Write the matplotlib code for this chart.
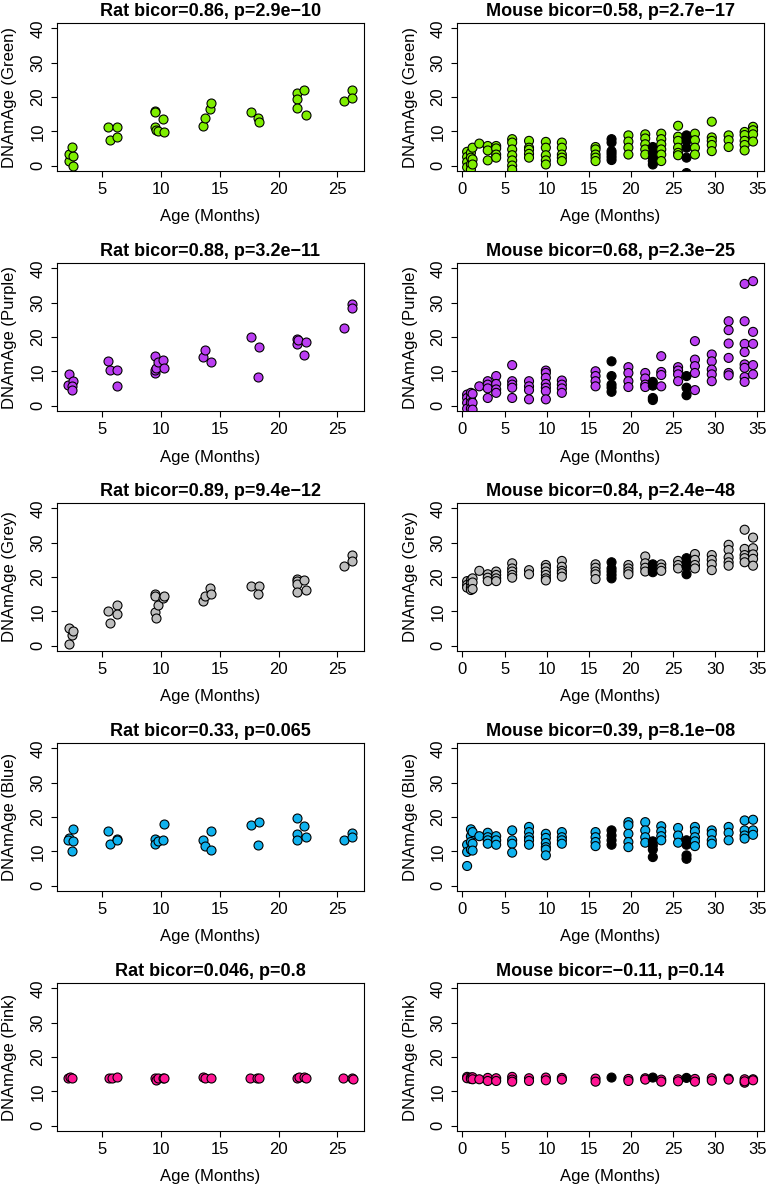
import matplotlib
matplotlib.use("Agg")
import matplotlib.pyplot as plt

plt.rcParams['font.family'] = ['Liberation Sans', 'DejaVu Sans']

# ---- rat data (one list per clock) ----
rat_green_x = [2.18, 2.26, 2.54, 2.49, 2.54, 5.54, 5.70, 6.27, 6.27, 9.52, 9.52, 9.52, 9.58, 9.80,
               10.23, 10.31, 13.59, 13.76, 14.18, 14.29, 17.63, 18.22, 18.30, 21.60, 21.55, 21.60,
               22.18, 22.32, 25.54, 26.27, 26.27]
rat_green_y = [1.3, 3.5, 2.9, 5.4, 0.0, 11.1, 7.4, 11.1, 8.2, 16.0, 15.5, 11.3, 10.4, 10.1,
               13.7, 9.8, 11.5, 13.8, 16.6, 18.3, 15.5, 13.9, 12.6, 21.1, 19.4, 16.8,
               22.1, 14.7, 18.7, 21.9, 19.8]

rat_purple_x = [2.26, 2.12, 2.54, 2.50, 2.48, 5.50, 5.70, 6.27, 6.27, 9.50, 9.50, 9.55, 9.60, 9.80,
                10.20, 10.30, 13.56, 13.76, 14.24, 17.63, 18.30, 18.22, 21.55, 21.55, 21.62,
                22.29, 22.20, 25.54, 26.27, 26.27]
rat_purple_y = [9.2, 6.1, 7.3, 5.8, 4.5, 13.1, 10.5, 10.3, 5.6, 14.4, 9.5, 10.5, 11.0, 12.7,
                13.2, 11.0, 14.2, 16.1, 12.7, 20.0, 17.0, 8.4, 19.3, 18.0, 19.1,
                18.6, 14.7, 22.5, 29.7, 28.5]

rat_grey_x = [2.18, 2.26, 2.49, 2.54, 5.54, 5.70, 6.27, 6.27, 9.52, 9.52, 9.52, 9.58, 9.75,
              10.23, 10.31, 13.59, 13.76, 14.18, 14.29, 17.63, 18.30, 18.22, 21.55, 21.60,
              21.60, 21.60, 22.20, 22.32, 25.54, 26.27, 26.27]
rat_grey_y = [0.3, 5.0, 3.2, 4.2, 10.0, 6.5, 11.8, 9.2, 15.0, 14.5, 9.9, 7.9, 11.7,
              13.8, 14.6, 13.1, 14.4, 16.8, 15.0, 17.5, 17.3, 14.9, 19.4, 18.8,
              18.0, 15.6, 19.0, 16.2, 23.3, 26.4, 24.8]

rat_blue_x = [2.26, 2.12, 2.54, 2.60, 2.49, 5.54, 5.70, 6.27, 6.27, 9.52, 9.52, 9.75,
              10.23, 10.31, 13.59, 13.76, 14.24, 14.29, 17.63, 18.30, 18.22, 21.60, 21.60,
              21.55, 22.20, 22.32, 25.54, 26.27, 26.27]
rat_blue_y = [14.0, 13.2, 16.4, 13.0, 10.2, 16.0, 12.2, 13.7, 13.2, 13.7, 12.0, 12.9,
              13.3, 17.9, 13.4, 11.5, 10.5, 15.8, 17.6, 18.6, 11.7, 19.7, 15.0,
              13.3, 17.3, 14.1, 13.3, 15.4, 14.1]

rat_pink_x = [2.10, 2.30, 2.50, 5.60, 5.90, 6.30, 9.50, 9.60, 9.80, 10.20, 10.30, 13.60, 13.80,
              14.30, 17.60, 18.20, 18.30, 21.60, 21.70, 22.20, 22.30, 25.50, 26.20, 26.30]
rat_pink_y = [14.0, 14.1, 13.9, 14.0, 13.9, 14.1, 13.9, 13.4, 13.8, 13.9, 14.0, 14.1, 14.0,
              13.8, 14.0, 13.9, 13.9, 14.0, 14.1, 14.2, 14.0, 14.0, 14.0, 13.6]

# ---- mouse data: one sub-list of DNAm ages per age group ----
mouse_ages = [0.55, 1.0, 1.2, 2.0, 3.0, 4.0, 5.9, 7.9, 9.9, 11.8, 15.8, 17.7, 19.7, 21.7,
              22.6, 23.6, 25.6, 26.6, 27.6, 29.6, 31.6, 33.5, 34.5]
black_ages = [17.7, 22.6, 26.6]

mouse_green = [
    [4.0, 2.5, 1.0, -0.5], [3.7, 2.3, 0.3, -1.2], [5.2, 1.8, 0.3], [6.4],
    [5.7, 4.4, 1.5], [5.7, 5.0, 3.2, 2.3], [7.7, 6.7, 4.7, 3.0, 1.5, 0.0, -1.2],
    [7.2, 5.2, 4.6, 3.4, 2.3], [6.9, 5.2, 3.0, 1.5, 0.3], [6.7, 5.2, 3.2, 2.3, 1.3],
    [5.4, 4.7, 3.2, 2.3, 1.3], [7.7, 6.7, 4.2, 3.4, 2.5, 1.6], [8.8, 7.0, 5.2, 3.2],
    [9.1, 7.9, 6.2, 4.7, 3.2], [5.4, 3.7, 2.3, 1.3, 0.3], [9.3, 7.7, 6.2, 4.7, 3.2, 1.3],
    [11.6, 8.4, 7.2, 5.2, 3.7, 3.0], [8.8, 8.2, 7.2, 5.2, 2.3, -2.2], [9.3, 7.4, 5.2, 3.2],
    [12.8, 8.2, 7.2, 6.0, 4.2], [8.8, 7.4, 5.4], [9.8, 8.9, 7.2, 6.0, 4.4],
    [11.3, 10.3, 9.1, 7.0],
]
mouse_purple = [
    [3.2, 2.2, 0.8, -0.9], [3.7, 2.2, 0.8, -0.9], [3.4, 0.8, -1.2], [5.6],
    [7.1, 6.1, 5.0, 2.2], [8.6, 6.3, 4.7, 3.7], [11.8, 7.1, 6.1, 5.2, 2.2],
    [7.1, 5.6, 4.5, 1.8], [10.2, 9.5, 8.1, 6.3, 5.2, 4.2, 1.8], [7.3, 6.1, 5.0, 3.7],
    [10.0, 8.6, 7.1, 5.6], [12.9, 8.6, 6.1, 5.2, 4.0], [11.2, 9.5, 7.1, 5.4],
    [9.5, 7.9, 6.1, 5.4], [6.9, 5.8, 2.2, 1.6], [14.4, 9.8, 8.9, 5.6],
    [11.2, 10.2, 9.1, 7.1], [8.6, 5.2, 3.0], [18.8, 13.4, 11.5, 9.5, 4.5],
    [14.9, 12.9, 10.5, 9.1, 7.1], [24.6, 22.0, 18.1, 13.9, 9.5, 8.8],
    [35.5, 24.6, 18.0, 15.6, 12.0, 11.0, 8.3, 6.9], [36.3, 21.5, 18.0, 11.8, 9.1],
]
mouse_grey = [
    [18.8, 17.7, 16.9], [19.1, 18.1, 16.9, 16.2], [19.6, 18.4, 16.5], [21.8],
    [20.8, 19.8, 18.8], [21.6, 20.6, 19.6, 18.8], [24.0, 22.5, 21.6, 20.6, 19.8],
    [22.0, 20.8], [23.5, 22.7, 21.6, 20.6, 19.6, 19.0], [24.7, 23.0, 21.8, 21.1, 20.1],
    [23.7, 22.7, 21.6, 20.8, 19.4], [24.3, 22.5, 21.6, 20.6, 19.6], [23.5, 22.5, 21.6, 20.8],
    [26.0, 24.0, 22.7, 21.6], [23.7, 22.7, 22.0, 21.4], [23.7, 22.7, 21.8],
    [24.7, 23.5, 22.5], [25.5, 24.3, 23.0, 20.8], [26.7, 25.0, 23.5, 22.5],
    [26.4, 25.0, 23.7, 22.0], [29.4, 27.9, 25.7, 24.3, 23.3],
    [33.8, 28.2, 26.4, 25.5, 24.3], [31.5, 28.4, 26.6, 25.3, 23.3],
]
mouse_blue = [
    [11.9, 9.8, 5.7], [16.4, 14.4, 12.7, 10.5], [15.6, 12.2, 10.2], [14.4],
    [15.4, 14.1, 13.2, 12.2], [14.4, 13.2, 11.9], [16.1, 13.2, 12.2, 9.6],
    [17.1, 15.6, 14.1, 13.2, 11.9], [15.1, 13.9, 12.4, 11.2, 10.5, 8.8],
    [15.6, 14.1, 13.2, 12.2], [15.6, 14.1, 12.7, 11.5], [16.1, 14.6, 13.2, 11.9],
    [18.5, 17.6, 15.1, 12.7, 11.2], [18.5, 16.1, 14.1, 12.5], [12.9, 11.7, 10.5, 8.3],
    [17.3, 15.8, 14.4, 13.2], [16.8, 14.6, 12.5], [13.2, 11.9, 8.8, 7.8],
    [17.1, 15.8, 14.1, 12.9, 11.5], [16.1, 15.1, 13.2, 12.2], [17.1, 15.4, 13.2],
    [19.0, 16.1, 14.6, 13.7], [19.2, 16.1, 14.8],
]
mouse_pink = [
    [14.2, 13.8], [14.0, 13.6], [14.1, 13.5], [13.5], [13.9, 13.0], [13.8, 13.0],
    [14.2, 13.4, 12.8], [13.8, 13.0], [14.0, 13.2], [13.9, 13.4], [13.7, 12.8], [14.0],
    [13.6, 13.0], [13.8, 13.4], [14.0], [13.4, 12.8], [13.5, 12.9], [13.9],
    [13.6, 12.8], [13.8, 13.1], [13.7, 13.4], [13.5, 12.5, 12.9], [13.5, 13.2],
]

clocks = ['Green', 'Purple', 'Grey', 'Blue', 'Pink']
colors = ['#7FEE00', '#BB3EF2', '#BEBEBE', '#10B2EE', '#FF1493']
rat_x = [rat_green_x, rat_purple_x, rat_grey_x, rat_blue_x, rat_pink_x]
rat_y = [rat_green_y, rat_purple_y, rat_grey_y, rat_blue_y, rat_pink_y]
mouse_y = [mouse_green, mouse_purple, mouse_grey, mouse_blue, mouse_pink]
rat_titles = ['Rat bicor=0.86, p=2.9e\u221210', 'Rat bicor=0.88, p=3.2e\u221211',
              'Rat bicor=0.89, p=9.4e\u221212', 'Rat bicor=0.33, p=0.065',
              'Rat bicor=0.046, p=0.8']
mouse_titles = ['Mouse bicor=0.58, p=2.7e\u221217', 'Mouse bicor=0.68, p=2.3e\u221225',
                'Mouse bicor=0.84, p=2.4e\u221248', 'Mouse bicor=0.39, p=8.1e\u221208',
                'Mouse bicor=\u22120.11, p=0.14']

W, H = 771, 1185
fig = plt.figure(figsize=(W / 100, H / 100), dpi=100)
BOX_W, BOX_H = 307, 148


def panel(left, top, xs, ys, cols, title, ylab, xlim, xticks):
    ax = fig.add_axes([left / W, 1 - (top + BOX_H) / H, BOX_W / W, BOX_H / H])
    ax.scatter(xs, ys, s=42, c=cols, edgecolors='black', linewidths=0.8, zorder=3)
    ax.set_xlim(xlim)
    ax.set_ylim(-1.6, 41.6)
    ax.set_xticks(xticks)
    ax.set_yticks([0, 10, 20, 30, 40])
    ax.tick_params(direction='out', length=4.3, width=0.8, labelsize=12, pad=3.5)
    ax.tick_params(axis='y', labelrotation=90, pad=4)
    for lab in ax.get_yticklabels():
        lab.set_va('center')
    for sp in ax.spines.values():
        sp.set_linewidth(0.8)
    ax.text(0.5, 1 + 12 / BOX_H, title, transform=ax.transAxes, ha='center', va='center',
            fontsize=13, fontweight='bold')
    ax.text(-47 / BOX_W, 0.5, ylab, transform=ax.transAxes, rotation=90, ha='center',
            va='center', fontsize=12)
    ax.text(0.5, -46 / BOX_H, 'Age (Months)', transform=ax.transAxes, ha='center',
            va='center', fontsize=12)
    return ax


for i, clock in enumerate(clocks):
    top = 23 + 240 * i
    ylab = 'DNAmAge (' + clock + ')'
    panel(57, top, rat_x[i], rat_y[i], colors[i], rat_titles[i], ylab,
          (1.2, 27.25), [5, 10, 15, 20, 25])

    mx, my, mc = [], [], []
    for age, vals in zip(mouse_ages, mouse_y[i]):
        for v in vals:
            mx.append(age)
            my.append(v)
            mc.append('black' if age in black_ages else colors[i])
    panel(457, top, mx, my, mc, mouse_titles[i], ylab,
          (-0.65, 35.8), [0, 5, 10, 15, 20, 25, 30, 35])

fig.savefig('out.png', dpi=100)
